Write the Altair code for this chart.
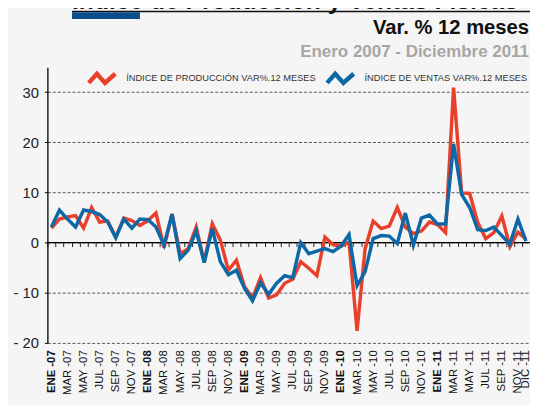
import altair as alt
import pandas as pd

meses = ["ENE", "FEB", "MAR", "ABR", "MAY", "JUN", "JUL", "AGO", "SEP", "OCT", "NOV", "DIC"]
anios = ["07", "08", "09", "10", "11"]
categorias = [f"{m} -{a}" for a in anios for m in meses]

produccion = [2.9, 4.7, 5.1, 5.4, 2.9, 7.0, 4.1, 4.3, 1.1, 4.9, 4.4, 3.4,
              4.4, 5.9, -1.0, 5.7, -2.2, -1.2, 3.1, -3.8, 3.75, 0.5, -5.5, -3.5,
              -8.75, -11.05, -7.0, -11.05, -10.4, -8.1, -7.3, -3.8, -5.1, -6.6, 1.1, -0.4,
              -0.7, 0.1, -17.6, -1.2, 4.3, 2.8, 3.3, 7.0, 3.1, 1.8, 2.3, 4.1,
              3.6, 2.0, 30.9, 9.9, 9.8, 4.0, 0.8, 2.0, 5.3, -0.8, 2.1, 0.7]
ventas = [3.1, 6.5, 4.7, 3.1, 6.5, 6.2, 5.6, 4.1, 1.0, 4.7, 2.9, 4.7,
          4.6, 3.1, -0.5, 5.7, -3.2, -1.5, 2.3, -4.0, 2.8, -3.8, -6.4, -5.5,
          -9.1, -11.6, -8.0, -10.3, -8.1, -6.6, -7.0, 0.0, -2.2, -1.7, -1.2, -1.8,
          -0.7, 1.6, -8.6, -5.8, 0.8, 1.4, 1.3, -0.2, 5.9, -0.5, 4.9, 5.5,
          3.7, 3.7, 19.7, 9.6, 7.0, 2.6, 2.4, 3.1, 1.4, -0.3, 4.7, 0.3]

series = ["ÍNDICE DE PRODUCCIÓN VAR%.12 MESES", "ÍNDICE DE VENTAS VAR%.12 MESES"]
colores = ["#e8402a", "#0c68a6"]
y_ticks = [-20, -10, 0, 10, 20, 30]

titulo = "Índice de Producción y Ventas Físicas"
subtitulo = "Var. % 12 meses"
periodo = "Enero 2007 - Diciembre 2011"

FONT = "Liberation Sans, Arial, sans-serif"
W, H = 490, 280
Y_MIN, Y_MAX = -20, 35
zero_from_bottom = H * (0 - Y_MIN) / (Y_MAX - Y_MIN)

df = pd.DataFrame({
    "mes": categorias * 2,
    "valor": produccion + ventas,
    "serie": [series[0]] * len(categorias) + [series[1]] * len(categorias),
})

x_enc = alt.X(
    "mes:N", sort=categorias,
    scale=alt.Scale(type="band", paddingInner=0, paddingOuter=0),
    axis=alt.Axis(
        title=None, domain=False, grid=False, ticks=True, tickBand="extent",
        tickSize=4, tickColor="#222", tickWidth=1,
        offset=-zero_from_bottom, labelPadding=zero_from_bottom + 3,
        labelAngle=-90, labelFont=FONT, labelFontSize=11.5,
        labelColor="#111",
        labelExpr="(test(/^(ENE|MAR|MAY|JUL|SEP|NOV)/, datum.label) || datum.label == 'DIC -11') ? datum.label : ''",
        labelFontWeight=alt.expr("test(/^ENE/, datum.label) ? 'bold' : 'normal'"),
    ),
)

y_enc = alt.Y(
    "valor:Q",
    scale=alt.Scale(domain=[Y_MIN, Y_MAX], nice=False, zero=False),
    axis=alt.Axis(
        title=None, values=y_ticks, domain=True, domainColor="#000", domainWidth=1.3,
        ticks=True, tickSize=3, tickColor="#000", labelPadding=6,
        labelFont=FONT, labelFontSize=15, labelColor="#222",
        labelExpr="datum.value < 0 ? '- ' + abs(datum.value) : datum.label",
        grid=True, gridDash=[3, 2], gridColor="#555", gridWidth=1,
    ),
)

lines = alt.Chart(df).mark_line(strokeWidth=3.5).encode(
    x=x_enc, y=y_enc,
    color=alt.Color(
        "serie:N", sort=series,
        scale=alt.Scale(domain=series, range=colores),
        legend=alt.Legend(
            title=None, orient="none", legendX=38, legendY=-6, direction="horizontal",
            symbolType="M-0.9,0.3L-0.35,-0.32L0.2,0.3L0.9,-0.32",
            symbolSize=900, symbolStrokeWidth=4.5, symbolFillColor="transparent",
            labelFont=FONT, labelFontSize=9.4, labelColor="#333", labelLimit=0,
            labelOffset=7, columnPadding=2, padding=0,
        ),
    ),
)

zero_rule = alt.Chart(pd.DataFrame({"v": [0]})).mark_rule(color="#000", strokeWidth=1.3).encode(
    y=alt.Y("v:Q", scale=alt.Scale(domain=[Y_MIN, Y_MAX], nice=False, zero=False))
)

title_txt = alt.Chart(pd.DataFrame({"t": [titulo]})).mark_text(
    font=FONT, fontSize=25, fontWeight="bold", color="#111", align="left", baseline="alphabetic"
).encode(text="t:N", x=alt.value(25), y=alt.value(-59.5))

sub_txt = alt.Chart(pd.DataFrame({"t": [subtitulo]})).mark_text(
    font=FONT, fontSize=20.5, fontWeight="bold", color="#111", align="right", baseline="alphabetic"
).encode(text="t:N", x=alt.value(489), y=alt.value(-33.5))

per_txt = alt.Chart(pd.DataFrame({"t": [periodo]})).mark_text(
    font=FONT, fontSize=17.2, fontWeight="bold", color="#a6a6a6", align="right", baseline="alphabetic"
).encode(text="t:N", x=alt.value(489), y=alt.value(-10.5))

top_line = alt.Chart(pd.DataFrame({"t": [titulo]})).mark_rect(color="#111").encode(
    x=alt.value(25), x2=alt.value(W), y=alt.value(-57.2), y2=alt.value(-55.8)
)
blue_bar = alt.Chart(pd.DataFrame({"t": [titulo]})).mark_rect(color="#0a4f8c").encode(
    x=alt.value(25), x2=alt.value(94), y=alt.value(-55.8), y2=alt.value(-48.8)
)

chart = alt.layer(
    title_txt, top_line, blue_bar, sub_txt, per_txt, zero_rule, lines
).properties(
    width=W, height=H,
    autosize=alt.AutoSizeParams(type="none"),
    padding={"left": 40, "top": 57, "right": 0, "bottom": 60},
    background="#f5f5f5",
).configure_view(stroke=None)

chart.save("out.html", embed_options={"renderer": "svg", "actions": False})
